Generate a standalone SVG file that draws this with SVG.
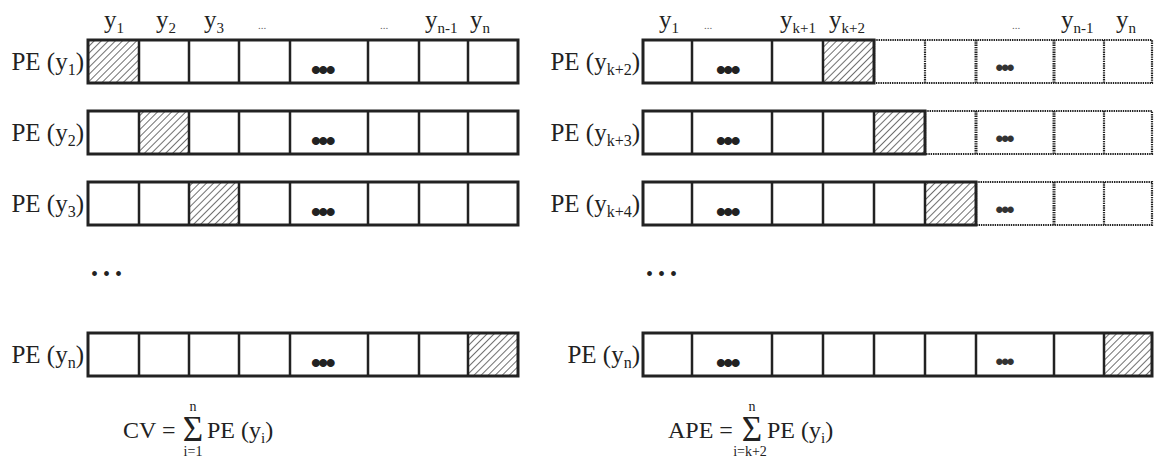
<svg xmlns="http://www.w3.org/2000/svg" width="1157" height="459" viewBox="0 0 1157 459">
<defs>
<pattern id="hatch" patternUnits="userSpaceOnUse" width="5" height="5" patternTransform="rotate(45)">
<rect width="5" height="5" fill="#fff"/>
<line x1="0" y1="0" x2="0" y2="5" stroke="#222" stroke-width="1.3"/>
</pattern>
</defs>
<style>
.t{font-family:"Liberation Serif","Times New Roman",serif;fill:#222}
.lab{font-size:25px}
.lsub{font-size:16px}
.hd{font-size:25px}
.sub{font-size:15px}
.tiny{font-size:11px;fill:#666}
.frm{font-size:24px}
.sig{font-size:35px}
.lim{font-size:14px}
.out{fill:none;stroke:#222;stroke-width:3}
.div{stroke:#222;stroke-width:2.5}
.dot{fill:none;stroke:#222;stroke-width:2.2;stroke-dasharray:1.4 0.9}
.dotb{fill:none;stroke:#222;stroke-width:3;stroke-dasharray:1.4 0.9}
.bul{font-family:"Liberation Sans",Arial,sans-serif;font-size:28px;font-weight:bold;fill:#222;letter-spacing:-2.5px}
.bul2{font-family:"Liberation Sans",Arial,sans-serif;font-size:22px;font-weight:bold;fill:#333;letter-spacing:-2px}
.big{font-family:"Liberation Serif",serif;font-size:20px;fill:#222}
</style>

<g id="connectors"/>

<g id="header-left">
<text class="t hd" x="104" y="28">y<tspan class="sub" dy="5">1</tspan></text>
<text class="t hd" x="156" y="28">y<tspan class="sub" dy="5">2</tspan></text>
<text class="t hd" x="204" y="28">y<tspan class="sub" dy="5">3</tspan></text>
<text class="t tiny" x="262" y="29" text-anchor="middle">...</text>
<text class="t tiny" x="384" y="29" text-anchor="middle">...</text>
<text class="t hd" x="425" y="28">y<tspan class="sub" dy="5">n-1</tspan></text>
<text class="t hd" x="470" y="28">y<tspan class="sub" dy="5">n</tspan></text>
</g>

<g id="row-y1">
<text class="t lab" x="84" y="70" text-anchor="end">PE (y<tspan class="lsub" dy="5">1</tspan><tspan dy="-5">)</tspan></text>
<rect x="88" y="40" width="51" height="43" fill="url(#hatch)"/>
<rect class="out" x="88" y="40" width="430" height="43"/>
<path class="div" d="M139 40V83M189 40V83M239 40V83M290 40V83M368 40V83M419 40V83M468 40V83"/>
<text class="bul" x="322" y="79" text-anchor="middle">•••</text>
</g>

<g id="row-y2">
<text class="t lab" x="84" y="141" text-anchor="end">PE (y<tspan class="lsub" dy="5">2</tspan><tspan dy="-5">)</tspan></text>
<rect x="139" y="111" width="50" height="43" fill="url(#hatch)"/>
<rect class="out" x="88" y="111" width="430" height="43"/>
<path class="div" d="M139 111V154M189 111V154M239 111V154M290 111V154M368 111V154M419 111V154M468 111V154"/>
<text class="bul" x="322" y="150" text-anchor="middle">•••</text>
</g>

<g id="row-y3">
<text class="t lab" x="84" y="212" text-anchor="end">PE (y<tspan class="lsub" dy="5">3</tspan><tspan dy="-5">)</tspan></text>
<rect x="189" y="182" width="50" height="43" fill="url(#hatch)"/>
<rect class="out" x="88" y="182" width="430" height="43"/>
<path class="div" d="M139 182V225M189 182V225M239 182V225M290 182V225M368 182V225M419 182V225M468 182V225"/>
<text class="bul" x="322" y="221" text-anchor="middle">•••</text>
</g>

<g id="ellipsis-left">
<text class="big" x="91" y="281">• • •</text>
</g>

<g id="row-yn">
<text class="t lab" x="84" y="363" text-anchor="end">PE (y<tspan class="lsub" dy="5">n</tspan><tspan dy="-5">)</tspan></text>
<rect x="468" y="333" width="50" height="43" fill="url(#hatch)"/>
<rect class="out" x="88" y="333" width="430" height="43"/>
<path class="div" d="M139 333V376M189 333V376M239 333V376M290 333V376M368 333V376M419 333V376M468 333V376"/>
<text class="bul" x="322" y="372" text-anchor="middle">•••</text>
</g>

<g id="formula-cv">
<text class="t frm" x="123" y="438">CV =</text>
<text class="t sig" x="193" y="441" text-anchor="middle">Σ</text>
<text class="t lim" x="193" y="411" text-anchor="middle">n</text>
<text class="t lim" x="193" y="456" text-anchor="middle">i=1</text>
<text class="t frm" x="207" y="438">PE (y<tspan class="sub" dy="5">i</tspan><tspan dy="-5">)</tspan></text>
</g>

<g id="header-right">
<text class="t hd" x="659" y="28">y<tspan class="sub" dy="5">1</tspan></text>
<text class="t tiny" x="708" y="29" text-anchor="middle">...</text>
<text class="t hd" x="780" y="28">y<tspan class="sub" dy="5">k+1</tspan></text>
<text class="t hd" x="829" y="28">y<tspan class="sub" dy="5">k+2</tspan></text>
<text class="t tiny" x="1016" y="29" text-anchor="middle">...</text>
<text class="t hd" x="1061" y="28">y<tspan class="sub" dy="5">n-1</tspan></text>
<text class="t hd" x="1116" y="28">y<tspan class="sub" dy="5">n</tspan></text>
</g>

<g id="row-yk2">
<text class="t lab" x="640" y="70" text-anchor="end">PE (y<tspan class="lsub" dy="5">k+2</tspan><tspan dy="-5">)</tspan></text>
<rect class="dot" x="874" y="40" width="278" height="43"/>
<path class="dot" d="M925 40V83M1104 40V83"/>
<path class="dotb" d="M976 40V83M1054 40V83"/>
<rect x="823" y="40" width="51" height="43" fill="url(#hatch)"/>
<rect class="out" x="643" y="40" width="231" height="43"/>
<path class="div" d="M692 40V83M772 40V83M823 40V83"/>
<text class="bul" x="727" y="79" text-anchor="middle">•••</text>
<text class="bul2" x="1004" y="75" text-anchor="middle">•••</text>
</g>

<g id="row-yk3">
<text class="t lab" x="640" y="141" text-anchor="end">PE (y<tspan class="lsub" dy="5">k+3</tspan><tspan dy="-5">)</tspan></text>
<rect class="dot" x="925" y="111" width="227" height="43"/>
<path class="dot" d="M1104 111V154"/>
<path class="dotb" d="M976 111V154M1054 111V154"/>
<rect x="874" y="111" width="51" height="43" fill="url(#hatch)"/>
<rect class="out" x="643" y="111" width="282" height="43"/>
<path class="div" d="M692 111V154M772 111V154M823 111V154M874 111V154"/>
<text class="bul" x="727" y="150" text-anchor="middle">•••</text>
<text class="bul2" x="1004" y="146" text-anchor="middle">•••</text>
</g>

<g id="row-yk4">
<text class="t lab" x="640" y="212" text-anchor="end">PE (y<tspan class="lsub" dy="5">k+4</tspan><tspan dy="-5">)</tspan></text>
<rect class="dot" x="976" y="182" width="176" height="43"/>
<path class="dot" d="M1104 182V225"/>
<path class="dotb" d="M1054 182V225"/>
<rect x="925" y="182" width="51" height="43" fill="url(#hatch)"/>
<rect class="out" x="643" y="182" width="333" height="43"/>
<path class="div" d="M692 182V225M772 182V225M823 182V225M874 182V225M925 182V225"/>
<text class="bul" x="727" y="221" text-anchor="middle">•••</text>
<text class="bul2" x="1004" y="217" text-anchor="middle">•••</text>
</g>

<g id="ellipsis-right">
<text class="big" x="646" y="281">• • •</text>
</g>

<g id="row-yn-right">
<text class="t lab" x="640" y="363" text-anchor="end">PE (y<tspan class="lsub" dy="5">n</tspan><tspan dy="-5">)</tspan></text>
<rect x="1104" y="333" width="48" height="43" fill="url(#hatch)"/>
<rect class="out" x="643" y="333" width="509" height="43"/>
<path class="div" d="M692 333V376M772 333V376M823 333V376M874 333V376M925 333V376M976 333V376M1054 333V376M1104 333V376"/>
<text class="bul" x="727" y="372" text-anchor="middle">•••</text>
<text class="bul2" x="1004" y="369" text-anchor="middle">•••</text>
</g>

<g id="formula-ape">
<text class="t frm" x="668" y="438">APE =</text>
<text class="t sig" x="752" y="441" text-anchor="middle">Σ</text>
<text class="t lim" x="752" y="411" text-anchor="middle">n</text>
<text class="t lim" x="750" y="456" text-anchor="middle">i=k+2</text>
<text class="t frm" x="767" y="438">PE (y<tspan class="sub" dy="5">i</tspan><tspan dy="-5">)</tspan></text>
</g>
</svg>
